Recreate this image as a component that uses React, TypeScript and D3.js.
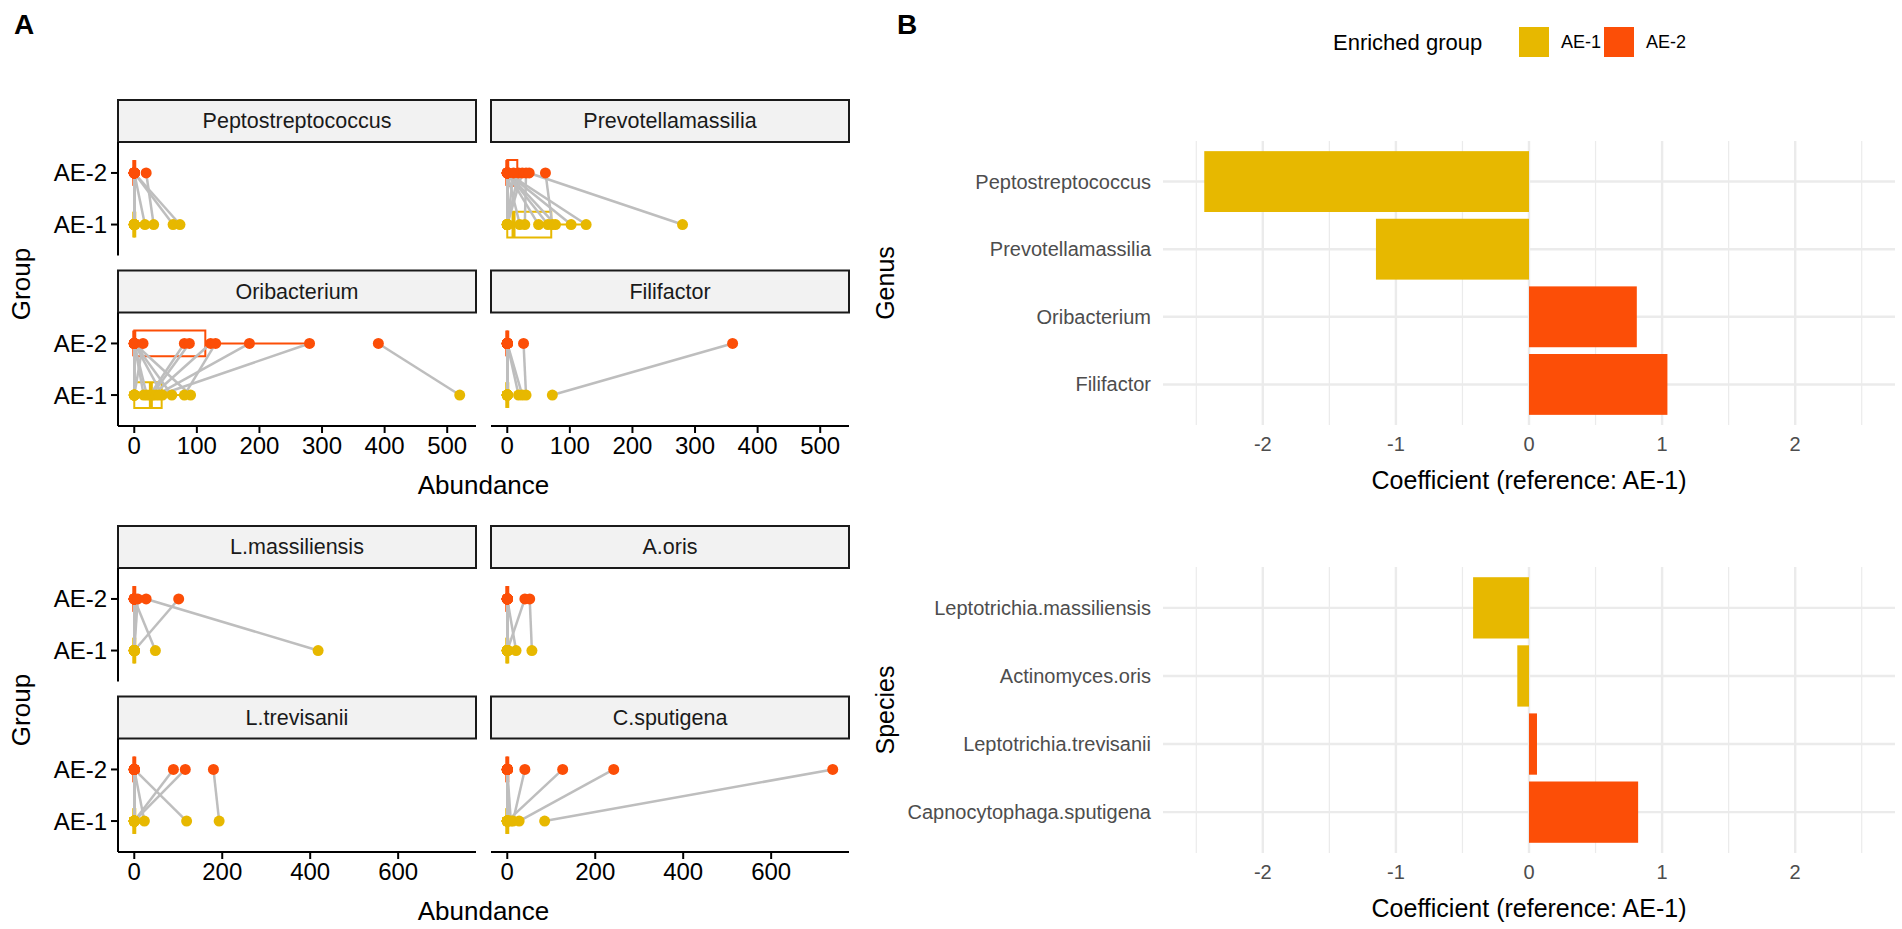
import * as d3 from 'd3';
import React from 'react';

const AE1_COLOR = '#E7B800';
const AE2_COLOR = '#FC4E07';
const LINE_GRAY = '#BEBEBE';
const FONT = '"Liberation Sans", Arial, Helvetica, sans-serif';

const groupLevels = ['AE-2', 'AE-1'];

// Panel A: paired abundance per subject (same index = same subject)
const peptostreptococcusAE1 = [0, 0, 0, 0, 0, 0, 0, 0, 0, 0, 0, 0, 0, 17, 62, 73, 31, 0];
const peptostreptococcusAE2 = [0, 0, 0, 0, 0, 0, 0, 0, 0, 0, 0, 0, 0, 0, 0, 0, 19, 0];
const prevotellamassiliaAE1 = [0, 0, 0, 0, 0, 0, 20, 65, 102, 77, 126, 50, 0, 0, 28, 280, 72, 0];
const prevotellamassiliaAE2 = [0, 0, 0, 0, 0, 0, 0, 0, 0, 0, 0, 0, 18, 24, 30, 35, 61, 10];
const oribacteriumAE1 = [0, 0, 0, 0, 0, 15, 20, 45, 60, 90, 0, 25, 28, 30, 80, 35, 40, 520];
const oribacteriumAE2 = [0, 0, 0, 0, 0, 0, 0, 0, 0, 0, 14, 80, 88, 122, 130, 184, 280, 390];
const filifactorAE1 = [0, 0, 0, 0, 0, 0, 0, 0, 0, 0, 0, 0, 18, 24, 30, 72, 0, 0];
const filifactorAE2 = [0, 0, 0, 0, 0, 0, 0, 0, 0, 0, 0, 0, 0, 0, 26, 360, 0, 0];

const lMassiliensisAE1 = [0, 0, 0, 0, 0, 0, 0, 0, 0, 0, 0, 0, 0, 0, 48, 0, 418, 0];
const lMassiliensisAE2 = [0, 0, 0, 0, 0, 0, 0, 0, 0, 0, 0, 0, 0, 0, 0, 101, 27, 8];
const aOrisAE1 = [0, 0, 0, 0, 0, 0, 0, 0, 0, 0, 0, 0, 0, 0, 20, 0, 56, 0];
const aOrisAE2 = [0, 0, 0, 0, 0, 0, 0, 0, 0, 0, 0, 0, 0, 0, 0, 40, 51, 0];
const lTrevisaniiAE1 = [0, 0, 0, 0, 0, 0, 0, 0, 0, 0, 0, 0, 0, 23, 119, 0, 0, 193];
const lTrevisaniiAE2 = [0, 0, 0, 0, 0, 0, 0, 0, 0, 0, 0, 0, 0, 0, 0, 89, 116, 180];
const cSputigenaAE1 = [0, 0, 0, 0, 0, 0, 0, 0, 0, 0, 0, 0, 0, 13, 0, 27, 85, 8];
const cSputigenaAE2 = [0, 0, 0, 0, 0, 0, 0, 0, 0, 0, 0, 0, 0, 40, 126, 242, 740, 0];

const genusTicks = [0, 100, 200, 300, 400, 500];
const speciesTicks = [0, 200, 400, 600];

// Panel B: coefficients
const genusNames = ['Peptostreptococcus', 'Prevotellamassilia', 'Oribacterium', 'Filifactor'];
const genusCoef = [-2.44, -1.15, 0.81, 1.04];
const genusEnriched = ['AE-1', 'AE-1', 'AE-2', 'AE-2'];
const speciesNames = ['Leptotrichia.massiliensis', 'Actinomyces.oris', 'Leptotrichia.trevisanii', 'Capnocytophaga.sputigena'];
const speciesCoef = [-0.42, -0.088, 0.06, 0.82];
const speciesEnriched = ['AE-1', 'AE-1', 'AE-2', 'AE-2'];
const coefMajor = [-2, -1, 0, 1, 2];
const coefMinor = [-2.5, -1.5, -0.5, 0.5, 1.5, 2.5];

const genusFacets = [
  { name: 'Peptostreptococcus', ae1: peptostreptococcusAE1, ae2: peptostreptococcusAE2 },
  { name: 'Prevotellamassilia', ae1: prevotellamassiliaAE1, ae2: prevotellamassiliaAE2 },
  { name: 'Oribacterium', ae1: oribacteriumAE1, ae2: oribacteriumAE2 },
  { name: 'Filifactor', ae1: filifactorAE1, ae2: filifactorAE2 },
];
const speciesFacets = [
  { name: 'L.massiliensis', ae1: lMassiliensisAE1, ae2: lMassiliensisAE2 },
  { name: 'A.oris', ae1: aOrisAE1, ae2: aOrisAE2 },
  { name: 'L.trevisanii', ae1: lTrevisaniiAE1, ae2: lTrevisaniiAE2 },
  { name: 'C.sputigena', ae1: cSputigenaAE1, ae2: cSputigenaAE2 },
];

const colorOf = (g: string) => (g === 'AE-1' ? AE1_COLOR : AE2_COLOR);

// layout of panel A
const COL_X = [118, 491];
const COL_W = 358;
const STRIP_H = 42;
const PANEL_H = 113.5;
const ROW_GAP = 15;

const boxStats = (values: number[]) => {
  const s = [...values].sort(d3.ascending);
  const q1 = d3.quantileSorted(s, 0.25) as number;
  const med = d3.quantileSorted(s, 0.5) as number;
  const q3 = d3.quantileSorted(s, 0.75) as number;
  const iqr = q3 - q1;
  const lo = d3.min(s.filter(v => v >= q1 - 1.5 * iqr)) as number;
  const hi = d3.max(s.filter(v => v <= q3 + 1.5 * iqr)) as number;
  return { q1, med, q3, lo, hi };
};

interface IFacet {
  name: string;
  ae1: number[];
  ae2: number[];
}

const FacetGrid: React.FC<{ facets: IFacet[]; ticks: number[]; top: number }> = ({ facets, ticks, top }) => {
  const max = d3.max(facets.flatMap(f => [...f.ae1, ...f.ae2])) as number;
  const pad = max * 0.05;
  const rowTops = [top, top + STRIP_H + PANEL_H + ROW_GAP];
  const bottom = rowTops[1] + STRIP_H + PANEL_H;
  const midX = (COL_X[0] + COL_X[1] + COL_W) / 2;
  const panelsMidY = (top + STRIP_H + bottom) / 2;

  return (
    <g>
      {facets.map((f, i) => {
        const col = i % 2;
        const row = Math.floor(i / 2);
        const x0 = COL_X[col];
        const x = d3.scaleLinear().domain([-pad, max + pad]).range([x0, x0 + COL_W]);
        const pTop = rowTops[row] + STRIP_H;
        const pBottom = pTop + PANEL_H;
        const y = d3.scalePoint<string>().domain(groupLevels).range([pTop, pBottom]).padding(0.6);
        const half = y.step() * 0.25;
        const groups = [
          { g: 'AE-1', vals: f.ae1 },
          { g: 'AE-2', vals: f.ae2 },
        ];
        return (
          <g key={f.name}>
            <rect x={x0} y={rowTops[row]} width={COL_W} height={STRIP_H} fill="#F2F2F2" stroke="#1A1A1A" strokeWidth={2} />
            <text x={x0 + COL_W / 2} y={rowTops[row] + STRIP_H / 2} textAnchor="middle" dominantBaseline="central" fontSize={21.5} fill="#1A1A1A">
              {f.name}
            </text>
            {groups.map(({ g, vals }) => {
              const st = boxStats(vals);
              const yc = y(g) as number;
              const c = colorOf(g);
              return (
                <g key={g} stroke={c} fill="none">
                  <line x1={x(st.lo)} x2={x(st.q1)} y1={yc} y2={yc} strokeWidth={2} />
                  <line x1={x(st.q3)} x2={x(st.hi)} y1={yc} y2={yc} strokeWidth={2} />
                  <path d={`M${x(st.q1)},${yc - half}H${x(st.q3)}V${yc + half}H${x(st.q1)}Z`} strokeWidth={2} />
                  <line x1={x(st.med)} x2={x(st.med)} y1={yc - half} y2={yc + half} strokeWidth={4} />
                </g>
              );
            })}
            {f.ae1.map((v, k) => (
              <line key={`l${k}`} x1={x(v)} y1={y('AE-1')} x2={x(f.ae2[k])} y2={y('AE-2')} stroke={LINE_GRAY} strokeWidth={2.5} />
            ))}
            {groups.map(({ g, vals }) =>
              vals.map((v, k) => <circle key={`${g}${k}`} cx={x(v)} cy={y(g)} r={5.5} fill={colorOf(g)} />)
            )}
            {col === 0 && (
              <g>
                <line x1={x0} x2={x0} y1={pTop} y2={pBottom} stroke="#000" strokeWidth={2} />
                {groupLevels.map(g => (
                  <g key={g}>
                    <line x1={x0 - 7} x2={x0} y1={y(g)} y2={y(g)} stroke="#000" strokeWidth={2} />
                    <text x={x0 - 11} y={y(g)} textAnchor="end" dominantBaseline="central" fontSize={24} fill="#000">
                      {g}
                    </text>
                  </g>
                ))}
              </g>
            )}
            {row === 1 && (
              <g>
                <line x1={x0} x2={x0 + COL_W} y1={pBottom} y2={pBottom} stroke="#000" strokeWidth={2} />
                {ticks.map(t => (
                  <g key={t}>
                    <line x1={x(t)} x2={x(t)} y1={pBottom} y2={pBottom + 7} stroke="#000" strokeWidth={2} />
                    <text x={x(t)} y={pBottom + 28} textAnchor="middle" fontSize={24} fill="#000">
                      {t}
                    </text>
                  </g>
                ))}
              </g>
            )}
          </g>
        );
      })}
      <text x={midX} y={bottom + 68} textAnchor="middle" fontSize={26} fill="#000">
        Abundance
      </text>
      <text transform={`translate(30,${panelsMidY}) rotate(-90)`} textAnchor="middle" fontSize={26} fill="#000">
        Group
      </text>
    </g>
  );
};

const COEF_LEFT = 1163;
const COEF_RIGHT = 1895;

const CoefPanel: React.FC<{ names: string[]; coefs: number[]; enriched: string[]; top: number; bottom: number; title: string }> = ({
  names,
  coefs,
  enriched,
  top,
  bottom,
  title,
}) => {
  const x = d3.scaleLinear().domain([-2.75, 2.75]).range([COEF_LEFT, COEF_RIGHT]);
  const y = d3.scalePoint<string>().domain(names).range([top, bottom]).padding(0.6);
  const barH = y.step() * 0.9;
  return (
    <g>
      {coefMinor.map(t => (
        <line key={`m${t}`} x1={x(t)} x2={x(t)} y1={top} y2={bottom} stroke="#EBEBEB" strokeWidth={1.2} />
      ))}
      {coefMajor.map(t => (
        <line key={`M${t}`} x1={x(t)} x2={x(t)} y1={top} y2={bottom} stroke="#EBEBEB" strokeWidth={2.4} />
      ))}
      {names.map(n => (
        <line key={`h${n}`} x1={COEF_LEFT} x2={COEF_RIGHT} y1={y(n)} y2={y(n)} stroke="#EBEBEB" strokeWidth={2.4} />
      ))}
      {names.map((n, i) => (
        <rect
          key={`b${n}`}
          x={x(Math.min(0, coefs[i]))}
          y={(y(n) as number) - barH / 2}
          width={Math.abs(x(coefs[i]) - x(0))}
          height={barH}
          fill={colorOf(enriched[i])}
        />
      ))}
      {names.map(n => (
        <text key={`t${n}`} x={COEF_LEFT - 12} y={y(n)} textAnchor="end" dominantBaseline="central" fontSize={20} fill="#4D4D4D">
          {n}
        </text>
      ))}
      {coefMajor.map(t => (
        <text key={`x${t}`} x={x(t)} y={bottom + 26} textAnchor="middle" fontSize={20} fill="#4D4D4D">
          {t}
        </text>
      ))}
      <text x={x(0)} y={bottom + 64} textAnchor="middle" fontSize={25} fill="#000">
        Coefficient (reference: AE-1)
      </text>
      <text transform={`translate(894,${(top + bottom) / 2}) rotate(-90)`} textAnchor="middle" fontSize={25} fill="#000">
        {title}
      </text>
    </g>
  );
};

const Legend: React.FC = () => {
  const items = ['AE-1', 'AE-2'];
  const keyX = d3.scalePoint<string>().domain(items).range([1519, 1604]);
  return (
    <g>
      <text x={1333} y={50} fontSize={22} fill="#000">
        Enriched group
      </text>
      {items.map(g => (
        <g key={g}>
          <rect x={keyX(g)} y={27} width={30} height={30} fill={colorOf(g)} />
          <text x={(keyX(g) as number) + 42} y={48} fontSize={18} fill="#000">
            {g}
          </text>
        </g>
      ))}
    </g>
  );
};

export default function App() {
  return (
    <svg
      width={1902}
      height={929}
      viewBox="0 0 1902 929"
      style={{ position: 'absolute', left: 0, top: 0, background: '#fff' }}
      fontFamily={FONT}
    >
      <rect width={1902} height={929} fill="#fff" />
      <text x={14} y={34} fontSize={28} fontWeight="bold">
        A
      </text>
      <text x={897} y={34} fontSize={28} fontWeight="bold">
        B
      </text>
      <FacetGrid facets={genusFacets} ticks={genusTicks} top={100} />
      <FacetGrid facets={speciesFacets} ticks={speciesTicks} top={526} />
      <Legend />
      <CoefPanel names={genusNames} coefs={genusCoef} enriched={genusEnriched} top={141} bottom={425} title="Genus" />
      <CoefPanel names={speciesNames} coefs={speciesCoef} enriched={speciesEnriched} top={567} bottom={853} title="Species" />
    </svg>
  );
}
